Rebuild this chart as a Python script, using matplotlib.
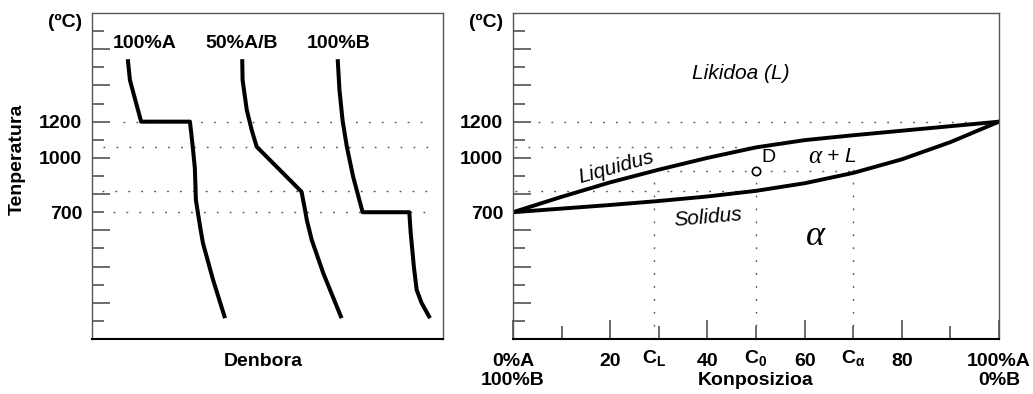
import matplotlib.pyplot as plt

plt.rcParams['font.family'] = ['Liberation Sans', 'DejaVu Sans']

# --- left panel: cooling curves (temperature vs time) ---
time_a = [10.2, 10.8, 11.8, 14.0, 27.9, 28.7, 29.3, 29.6, 30.8, 31.6, 34.5, 37.9]
temp_a = [1545, 1430, 1358, 1200, 1200, 1062, 944, 767, 620, 530, 326, 115]
time_ab = [42.8, 42.9, 44.1, 45.5, 46.9, 59.7, 60.7, 61.2, 62.6, 65.9, 71.1]
temp_ab = [1545, 1430, 1264, 1154, 1062, 813, 712, 657, 547, 363, 115]
time_b = [70.0, 70.5, 71.4, 72.6, 74.4, 77.1, 90.4, 90.8, 91.7, 92.5, 93.9, 96.3]
temp_b = [1545, 1375, 1205, 1062, 896, 700, 700, 585, 399, 271, 199, 115]
curve_names = ['100%A', '50%A/B', '100%B']
guide_temps = [1200, 1062, 815, 700]

# --- right panel: phase diagram ---
liq_x = [0, 10, 20, 30, 40, 50, 60, 70, 80, 90, 100]
liq_t = [700, 785, 865, 935, 1000, 1058, 1098, 1125, 1150, 1175, 1200]
sol_x = [0, 10, 20, 30, 40, 50, 60, 70, 80, 90, 100]
sol_t = [700, 720, 740, 762, 787, 818, 860, 917, 992, 1087, 1200]
c_l, c_0, c_alpha = 29, 50, 70
t_d = 928

ytick_major = [200, 400, 600, 800, 1000, 1200, 1400, 1600]
ytick_minor = [100, 300, 500, 700, 900, 1100, 1300, 1500, 1700]

dot = dict(ls=(0, (1.3, 8)), lw=1.0, color='#555555')
fs = 14

fig = plt.figure(figsize=(10.33, 3.94), dpi=100)
ax1 = fig.add_axes([92 / 1033, 1 - 339 / 394, 351 / 1033, 326 / 394])
ax2 = fig.add_axes([513 / 1033, 1 - 339 / 394, 486 / 1033, 326 / 394])


def style_y(ax):
    ax.set_ylim(0, 1800)
    ax.set_yticks(ytick_major, ['1000' if t == 1000 else '1200' if t == 1200 else ''
                                for t in ytick_major])
    ax.set_yticks(ytick_minor, ['700' if t == 700 else '' for t in ytick_minor], minor=True)
    ax.tick_params(axis='y', which='major', direction='in', length=13, width=1.1,
                   color='#444444', pad=7)
    ax.tick_params(axis='y', which='minor', direction='in', length=8.6, width=1.1,
                   color='#444444', pad=7)
    for lab in ax.get_yticklabels(which='both'):
        lab.set_fontsize(fs)
        lab.set_fontweight('bold')
    for s in ['left', 'top', 'right']:
        ax.spines[s].set_color('#555555')
        ax.spines[s].set_linewidth(1.0)
    ax.spines['bottom'].set_color('black')
    ax.spines['bottom'].set_linewidth(1.5)
    ax.annotate('(ºC)', xy=(0, 1745), xycoords=('axes fraction', 'data'),
                xytext=(-7, 0), textcoords='offset points', ha='right', va='center',
                fontsize=fs, fontweight='bold')


# left panel
ax1.set_xlim(0, 100)
style_y(ax1)
ax1.set_xticks([])
for t, x0, x1 in zip(guide_temps, [8.8, 3.1, 2.8, 6.0], [97, 97, 97, 95.7]):
    ax1.plot([x0, x1], [t, t], **dot)
for xs, ts in [(time_a, temp_a), (time_ab, temp_ab), (time_b, temp_b)]:
    ax1.plot(xs, ts, color='black', lw=2.9, solid_capstyle='butt')
for name, x in zip(curve_names, [15.1, 42.6, 70.2]):
    ax1.text(x, 1634, name, ha='center', va='center', fontsize=fs, fontweight='bold')
ax1.set_xlabel('Denbora', fontsize=fs, fontweight='bold')
ax1.xaxis.set_label_coords(0.487, -0.042)
ax1.set_ylabel('Tenperatura', fontsize=fs, fontweight='bold')
ax1.yaxis.set_label_coords(-0.19, 0.55)

# right panel
ax2.set_xlim(0, 100)
style_y(ax2)
ax2.set_xticks([0, 20, 40, 60, 80, 100], ['0%A\n100%B', '20', '40', '60', '80', '100%A\n0%B'])
ax2.set_xticks([10, 30, 50, 70, 90], minor=True)
ax2.tick_params(axis='x', which='major', direction='in', length=13.7, width=1.1,
                color='#444444', pad=10, labelsize=fs)
ax2.tick_params(axis='x', which='minor', direction='in', length=9.4, width=1.1,
                color='#444444')
for lab in ax2.get_xticklabels():
    lab.set_fontweight('bold')
for x, lbl in [(c_l, 'C$_\\mathregular{L}$'), (c_0, 'C$_\\mathregular{0}$'),
               (c_alpha, 'C$_\\mathregular{α}$')]:
    ax2.annotate(lbl, xy=(x, 0), xycoords=('data', 'axes fraction'), xytext=(0, -7),
                 textcoords='offset points', ha='center', va='top', fontsize=fs,
                 fontweight='bold')

ax2.plot([5.2, 100], [1200, 1200], **dot)
ax2.plot([0.5, 50], [1062, 1062], **dot)
ax2.plot([0.5, 48], [815, 815], **dot)
ax2.plot([c_l, c_alpha], [t_d, t_d], **dot)
for x in [c_l, c_0, c_alpha]:
    ax2.plot([x, x], [0, t_d + 15], **dot)
ax2.plot(liq_x, liq_t, color='black', lw=2.8)
ax2.plot(sol_x, sol_t, color='black', lw=2.8)
ax2.plot([c_0], [t_d], marker='o', ms=6, mfc='white', mec='black', mew=1.2)

ax2.text(c_0 + 1.2, 1004, 'D', ha='left', va='center', fontsize=fs)
ax2.text(46.9, 1464, 'Likidoa (L)', ha='center', va='center', fontsize=15, style='italic')
ax2.text(21.3, 951, 'Liquidus', ha='center', va='center', fontsize=15, style='italic',
         rotation=15.8)
ax2.text(40.1, 669, 'Solidus', ha='center', va='center', fontsize=15, style='italic',
         rotation=5)
ax2.text(62.1, 1006, 'α', ha='center', va='center', fontsize=18, style='italic',
         family='Liberation Serif')
ax2.text(64.6, 1006, '+ L', ha='left', va='center', fontsize=15, style='italic')
ax2.text(62.3, 564, 'α', ha='center', va='center', fontsize=26, style='italic',
         family='Liberation Serif')
ax2.set_xlabel('Konposizioa', fontsize=fs, fontweight='bold')
ax2.xaxis.set_label_coords(0.5, -0.1)

fig.savefig('out.png', dpi=100)
